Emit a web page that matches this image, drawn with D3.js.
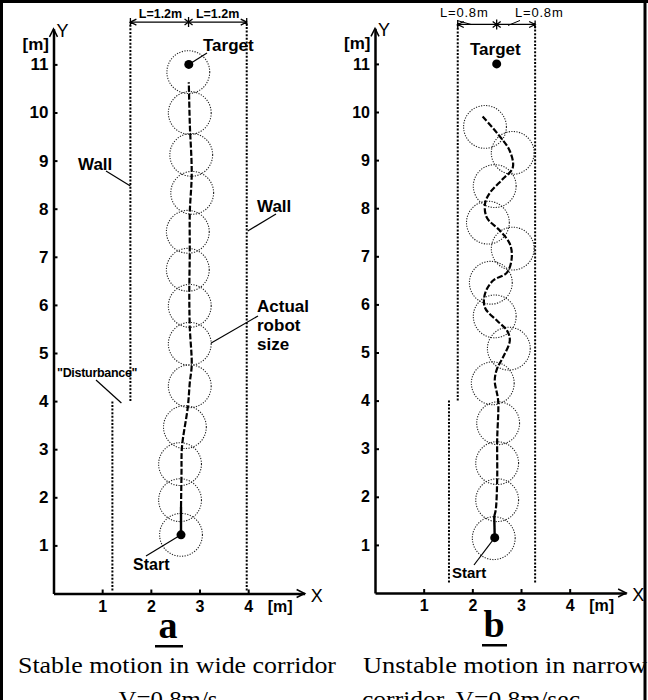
<!DOCTYPE html>
<html><head><meta charset="utf-8">
<script src="https://cdn.jsdelivr.net/npm/d3@7"></script>
<style>body{margin:0;background:#fff}svg{display:block}</style>
</head><body>
<script>
// ---------- data (metres) ----------
const xTicks = [1, 2, 3, 4];
const yTicks = [1, 2, 3, 4, 5, 6, 7, 8, 9, 10, 11];
const robotRadius = 0.44;

// panel a : wide corridor
const circlesA = [[2.62,1.22],[2.60,1.94],[2.60,2.69],[2.70,3.46],[2.80,4.31],[2.80,5.19],[2.80,5.98],[2.76,6.73],[2.76,7.52],[2.85,8.33],[2.83,9.12],[2.80,9.99],[2.77,10.84]];
const pathA = [[2.62,1.80],[2.63,2.50],[2.64,3.05],[2.76,3.88],[2.80,4.38],[2.84,4.75],[2.80,5.54],[2.79,6.25],[2.80,7.10],[2.80,7.91],[2.84,8.74],[2.80,9.78],[2.78,10.63]];
const solidA = [[2.62,1.22],[2.62,1.80]];
const startA = [2.62,1.22];
const targetA = [2.78,11.0];
const wallsA = [[[1.21,0.06],[1.21,4.0]],[[1.58,4.0],[1.58,11.88]],[[3.97,0.06],[3.97,11.88]]];
const corridorA = [1.58, 2.775, 3.97, 11.88];

// panel b : narrow corridor
const circlesB = [[2.44,1.14],[2.51,1.93],[2.51,2.70],[2.53,3.53],[2.42,4.36],[2.75,5.08],[2.46,5.75],[2.38,6.45],[2.83,7.16],[2.32,7.70],[2.46,8.46],[2.83,9.15],[2.26,9.69]];
const pathB = [[2.45,1.60],[2.48,1.72],[2.51,2.34],[2.51,3.17],[2.53,4.00],[2.46,4.42],[2.51,4.67],[2.63,4.90],[2.77,5.25],[2.71,5.46],[2.51,5.66],[2.26,5.93],[2.26,6.22],[2.42,6.49],[2.71,6.66],[2.81,6.97],[2.77,7.26],[2.57,7.53],[2.30,7.80],[2.26,8.09],[2.36,8.32],[2.63,8.61],[2.83,8.84],[2.77,9.19],[2.51,9.56],[2.20,9.92]];
const solidB = [[2.46,1.15],[2.45,1.60]];
const startB = [2.46,1.15];
const targetB = [2.50,11.0];
const wallsB = [[[1.52,0.22],[1.52,4.0]],[[1.70,4.0],[1.70,11.82]],[[3.29,0.22],[3.29,11.82]]];
const corridorB = [1.70, 2.50, 3.29, 11.82];

// ---------- drawing ----------
const W = 648, H = 700;
const SANS = "'Liberation Sans', Arial, sans-serif";
const SERIF = "'Liberation Serif', 'Times New Roman', serif";
const svg = d3.select("body").append("svg").attr("width", W).attr("height", H);
svg.append("rect").attr("width", W).attr("height", H).attr("fill", "#fff");

function txt(g, s, x, y, size, opts = {}) {
  return g.append("text").attr("x", x).attr("y", y).text(s)
    .attr("font-family", opts.family || SANS)
    .attr("font-weight", opts.weight || "bold")
    .attr("font-size", size)
    .attr("text-anchor", opts.anchor || "start")
    .attr("fill", "#000");
}
function seg(g, x1, y1, x2, y2, w = 1) {
  g.append("line").attr("x1", x1).attr("y1", y1).attr("x2", x2).attr("y2", y2)
    .attr("stroke", "#000").attr("stroke-width", w);
}

function drawPanel(o) {
  const x = d3.scaleLinear().domain([0, 5.16]).range([o.x0, o.x0 + 5.16 * 48.67]);
  const y = d3.scaleLinear().domain([0, 11.74]).range([o.y0, o.y0 - 11.74 * 48.1]);
  const g = svg.append("g");

  // walls
  g.selectAll("line.wall").data(o.walls).join("line").attr("class", "wall")
    .attr("x1", d => x(d[0][0])).attr("y1", d => y(d[0][1]))
    .attr("x2", d => x(d[1][0])).attr("y2", d => y(d[1][1]))
    .attr("stroke", "#000").attr("stroke-width", 2).attr("stroke-dasharray", "2,1.6");

  // robot circles
  g.selectAll("circle.robot").data(o.circles).join("circle").attr("class", "robot")
    .attr("cx", d => x(d[0])).attr("cy", d => y(d[1]))
    .attr("r", x(robotRadius) - x(0))
    .attr("fill", "none").attr("stroke", "#222").attr("stroke-width", 1.1)
    .attr("stroke-dasharray", "1.2,1.4");

  // trajectory
  const line = d3.line().x(d => x(d[0])).y(d => y(d[1])).curve(d3.curveCatmullRom);
  g.append("path").attr("d", line(o.path)).attr("fill", "none")
    .attr("stroke", "#000").attr("stroke-width", 2.2).attr("stroke-dasharray", "6,2");
  g.append("path").attr("d", d3.line().x(d => x(d[0])).y(d => y(d[1]))(o.solid))
    .attr("fill", "none").attr("stroke", "#000").attr("stroke-width", 2.4);

  // start / target dots
  g.selectAll("circle.pt").data([o.start, o.target]).join("circle").attr("class", "pt")
    .attr("cx", d => x(d[0])).attr("cy", d => y(d[1])).attr("r", 4.5).attr("fill", "#000");

  // axes
  const xa = d3.axisBottom(x).tickValues(xTicks).tickSizeInner(-4).tickSizeOuter(0)
    .tickPadding(7).tickFormat(d3.format("d"));
  const gx = g.append("g").attr("transform", `translate(0,${o.y0})`).call(xa);
  gx.select(".domain").attr("stroke", "#000").attr("stroke-width", 2.5);
  gx.selectAll(".tick line").attr("stroke", "#000").attr("stroke-width", 2);
  gx.selectAll("text").attr("font-family", SANS).attr("font-weight", "bold")
    .attr("font-size", 16).attr("fill", "#000");

  const ya = d3.axisLeft(y).tickValues(yTicks).tickSizeInner(-4).tickSizeOuter(0)
    .tickPadding(5).tickFormat(d3.format("d"));
  const gy = g.append("g").attr("transform", `translate(${o.x0},0)`).call(ya);
  gy.select(".domain").attr("stroke", "#000").attr("stroke-width", 2.5);
  gy.selectAll(".tick line").attr("stroke", "#000").attr("stroke-width", 2);
  gy.selectAll("text").attr("font-family", SANS).attr("font-weight", "bold")
    .attr("font-size", o.ySize).attr("fill", "#000");

  // axis arrows
  const xe = x(5.16), ye = y(11.74);
  g.append("path").attr("d", `M${xe-8},${o.y0-4}L${xe},${o.y0}L${xe-8},${o.y0+4}`)
    .attr("fill", "none").attr("stroke", "#000").attr("stroke-width", 1.5);
  g.append("path").attr("d", `M${o.x0-4},${ye+8}L${o.x0},${ye}L${o.x0+4},${ye+8}`)
    .attr("fill", "none").attr("stroke", "#000").attr("stroke-width", 1.5);
  txt(g, "X", xe + 6, o.y0 + 8, 18, {weight: "normal"});
  txt(g, "[m]", xe - 37, o.y0 + 18, 16);
  txt(g, "Y", o.x0 + 3, ye + 8, 18, {weight: "normal"});
  txt(g, "[m]", o.x0 - 31, ye + 21, 17);

  // corridor dimension
  const [cl, cc, cr, cy] = o.corridor;
  const xl = x(cl), xc = x(cc), xr = x(cr), yd = y(cy);
  seg(g, xl, yd, xr, yd, 1.3);
  g.append("path").attr("d", `M${xl+6},${yd-3}L${xl},${yd}L${xl+6},${yd+3}M${xr-6},${yd-3}L${xr},${yd}L${xr-6},${yd+3}M${xl},${yd-4}L${xl},${yd+4}M${xr},${yd-4}L${xr},${yd+4}`)
    .attr("fill", "none").attr("stroke", "#000").attr("stroke-width", 1.3);
  g.append("path").attr("d", `M${xc},${yd-5}L${xc},${yd+5}M${xc-4},${yd-3}L${xc+4},${yd+3}M${xc-4},${yd+3}L${xc+4},${yd-3}`)
    .attr("stroke", "#000").attr("stroke-width", 1.3);

  return {x, y, g, xl, xc, xr, yd};
}

// ---- panel a ----
const A = drawPanel({x0: 53.5, y0: 593.5, walls: wallsA, circles: circlesA, path: pathA,
  solid: solidA, start: startA, target: targetA, corridor: corridorA, ySize: 17});
{
  const {x, y, g, xl, xc, xr, yd} = A;
  txt(g, "L=1.2m", (xl + xc) / 2 + 1, yd - 4, 12.5, {anchor: "middle"});
  txt(g, "L=1.2m", (xc + xr) / 2, yd - 4, 12.5, {anchor: "middle"});
  txt(g, "Target", 203, 51, 17);
  seg(g, 207, 53, x(targetA[0]), y(targetA[1]), 1.2);
  txt(g, "Start", 133, 570, 16);
  seg(g, 146, 556, x(startA[0]), y(startA[1]), 1.2);
  txt(g, "Wall", 78, 170, 17);
  seg(g, 106, 171, x(wallsA[1][0][0]), 186, 1.2);
  txt(g, "Wall", 257, 212, 17);
  seg(g, 276, 214, x(wallsA[2][0][0]) + 1, 231, 1.2);
  txt(g, "Actual", 257, 312, 17);
  txt(g, "robot", 257, 331, 17);
  txt(g, "size", 257, 350, 17);
  seg(g, 258, 316, x(circlesA[5][0] + robotRadius), 343, 1.2);
  txt(g, "\"Disturbance\"", 57, 377, 12.5).attr("letter-spacing", -0.3);
  seg(g, 96, 380, x(wallsA[0][1][0]) + 9, 403, 1.2);
}

// ---- panel b ----
const B = drawPanel({x0: 375, y0: 593, walls: wallsB, circles: circlesB, path: pathB,
  solid: solidB, start: startB, target: targetB, corridor: corridorB, ySize: 16});
{
  const {x, y, g, xl, xc, xr, yd} = B;
  txt(g, "L=0.8m", 440, yd - 7, 13, {weight: "normal"}).attr("letter-spacing", 0.8);
  txt(g, "L=0.8m", 515, yd - 7, 13, {weight: "normal"}).attr("letter-spacing", 0.8);
  seg(g, 457, yd - 4, 471, yd, 1);
  seg(g, 520, yd - 4, 508, yd + 1, 1);
  txt(g, "Target", 470, 55, 17);
  txt(g, "Start", 452, 578, 15);
  seg(g, 474, 565, x(startB[0]), y(startB[1]), 1.2);
}

// ---- panel letters & captions ----
const cap = svg.append("g");
txt(cap, "a", 168, 638, 38, {family: SERIF, anchor: "middle"});
cap.append("rect").attr("x", 155).attr("y", 645).attr("width", 28).attr("height", 2.5).attr("fill", "#000");
txt(cap, "b", 494, 637, 38, {family: SERIF, anchor: "middle"});
cap.append("rect").attr("x", 482).attr("y", 644).attr("width", 25).attr("height", 2.5).attr("fill", "#000");

txt(cap, "Stable motion in wide corridor", 18, 673, 23, {family: SERIF, weight: "normal"})
  .attr("textLength", 318).attr("lengthAdjust", "spacingAndGlyphs");
txt(cap, "V=0.8m/s", 168, 707, 23, {family: SERIF, weight: "normal", anchor: "middle"})
  .attr("textLength", 99).attr("lengthAdjust", "spacingAndGlyphs");
txt(cap, "Unstable motion in narrow", 363, 673, 23, {family: SERIF, weight: "normal"})
  .attr("textLength", 284).attr("lengthAdjust", "spacingAndGlyphs");
txt(cap, "corridor, V=0.8m/sec", 362, 707, 23, {family: SERIF, weight: "normal"})
  .attr("textLength", 218).attr("lengthAdjust", "spacingAndGlyphs");

// ---- frame ----
seg(svg, 0, 1.5, W, 1.5, 3);
seg(svg, 1.5, 0, 1.5, H, 3);
seg(svg, 645, 0, 645, H, 3);
</script>
</body></html>
